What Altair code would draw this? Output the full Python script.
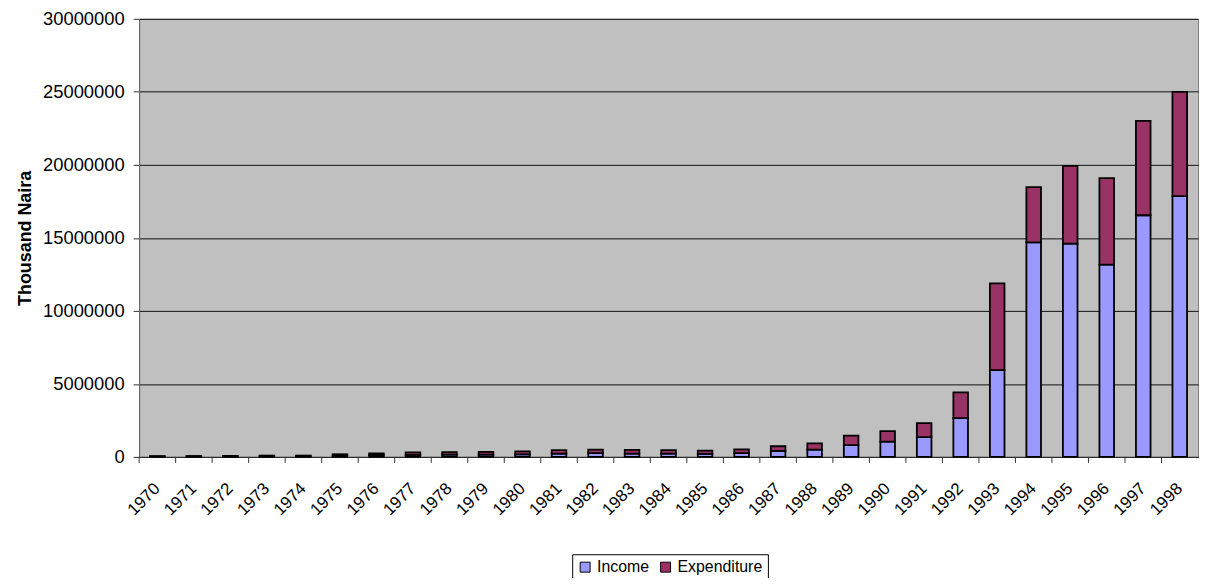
import altair as alt
import pandas as pd

years = [str(y) for y in range(1970, 1999)]
income = [30000, 30000, 35000, 45000, 50000, 90000, 120000, 140000, 150000, 160000,
          170000, 220000, 260000, 230000, 230000, 200000, 260000, 410000, 500000, 800000,
          1050000, 1360000, 2650000, 5940000, 14690000, 14600000, 13170000, 16550000, 17860000]
expenditure = [30000, 30000, 35000, 45000, 40000, 90000, 120000, 170000, 180000, 180000,
               210000, 240000, 240000, 250000, 240000, 230000, 260000, 320000, 430000, 650000,
               720000, 950000, 1770000, 5940000, 3790000, 5330000, 5920000, 6460000, 7140000]
series = ["Income", "Expenditure"]
colors = ["#9999FF", "#993366"]
y_ticks = [0, 5000000, 10000000, 15000000, 20000000, 25000000, 30000000]

rows = []
for yr, inc, exp in zip(years, income, expenditure):
    rows.append({"year": yr, "series": "Income", "value": inc, "ord": 0})
    rows.append({"year": yr, "series": "Expenditure", "value": exp, "ord": 1})
df = pd.DataFrame(rows)
tick_df = pd.DataFrame({"year": years})

FONT = "Liberation Sans"

bars = alt.Chart(df).mark_bar(stroke="#000000", strokeWidth=1.8).encode(
    x=alt.X(
        "year:N", sort=years,
        scale=alt.Scale(paddingInner=0.6, paddingOuter=0.3),
        axis=alt.Axis(title=None, labelAngle=-45, labelAlign="right", labelBaseline="middle",
                      labelPadding=29, ticks=False, tickSize=0, domainColor="#333333",
                      domainWidth=1, labelFontSize=17, labelColor="#000000", labelFont=FONT,
                      grid=False),
    ),
    y=alt.Y(
        "value:Q", stack="zero",
        scale=alt.Scale(domain=[0, 30000000], nice=False),
        axis=alt.Axis(title="Thousand Naira", values=y_ticks, format="d",
                      labelFontSize=18.5, labelColor="#000000", labelFont=FONT,
                      labelPadding=9, tickSize=6, tickColor="#333333",
                      domainColor="#666666", gridColor="#111111", gridWidth=1,
                      titleFont=FONT, titleFontSize=18, titleFontWeight="bold",
                      titleColor="#000000", titlePadding=8),
    ),
    color=alt.Color(
        "series:N",
        scale=alt.Scale(domain=series, range=colors),
        legend=alt.Legend(title=None, orient="none", legendX=436, legendY=539,
                          direction="horizontal", strokeColor="#000000", padding=5,
                          symbolType="square", symbolSize=100, symbolStrokeColor="#000000",
                          symbolStrokeWidth=1, labelFontSize=16, labelFont=FONT,
                          labelColor="#000000", columnPadding=8, labelOffset=4),
    ),
    order=alt.Order("ord:Q", sort="ascending"),
)

ticks = alt.Chart(tick_df).mark_rule(color="#333333", strokeWidth=1).encode(
    x=alt.X("year:N", sort=years, bandPosition=0,
            scale=alt.Scale(paddingInner=0, paddingOuter=0), axis=None),
    y=alt.value(441),
    y2=alt.value(447),
)

chart = (
    alt.layer(bars, ticks)
    .resolve_scale(x="independent")
    .properties(width=1066, height=441, autosize="none",
                padding={"left": 132, "top": 9, "right": 2, "bottom": 120})
    .configure(font=FONT)
    .configure_view(fill="#C0C0C0", stroke="#808080")
)

chart.save("out.html", embed_options={"renderer": "svg", "actions": False})
